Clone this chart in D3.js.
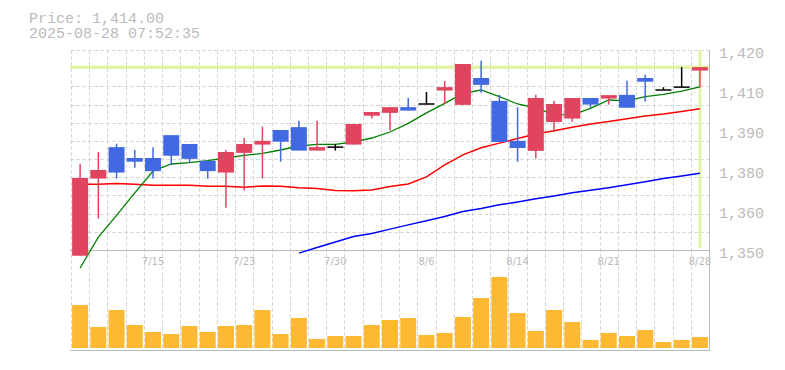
<html>
<script src="https://d3js.org/d3.v7.min.js"></script>

<style>
  body {
    margin: 0;
    background: #fff;
  }

  .lbl {
    fill: #bbb;
    font-family: "Liberation Mono", monospace;
    font-size: 15px;
  }
</style>

<body>
  <div id="chart"></div>
  <script>

    // trading days shown
    const dates = ["7/9", "7/10", "7/11", "7/14", "7/15", "7/16", "7/17", "7/18", "7/22", "7/23",
      "7/24", "7/25", "7/28", "7/29", "7/30", "7/31", "8/1", "8/4", "8/5", "8/6",
      "8/7", "8/8", "8/12", "8/13", "8/14", "8/15", "8/18", "8/19", "8/20", "8/21",
      "8/22", "8/25", "8/26", "8/27", "8/28"];

    const opens = [1348, 1375, 1386, 1382.2, 1382.2, 1390.2, 1387.1, 1381.2, 1377.1, 1384,
      1386.9, 1392, 1393, 1384.8, 1386, 1386.9, 1397, 1398, 1400, 1401.1,
      1405.8, 1400.8, 1410.2, 1402.2, 1388.2, 1384.7, 1394.8, 1396, 1403.2, 1403,
      1404.3, 1410.2, 1406, 1407, 1412.8];
    const highs = [1380, 1384.3, 1387.2, 1385, 1386, 1390.2, 1387.1, 1381.2, 1385, 1389.2,
      1393.2, 1392, 1395.2, 1395.2, 1387.1, 1394.1, 1398.3, 1400, 1403.2, 1405.3,
      1409.2, 1415.1, 1416.2, 1404.3, 1400, 1404.3, 1402.2, 1403.2, 1403.2, 1404.2,
      1409.2, 1411.3, 1407, 1414, 1414];
    const lows = [1348, 1361, 1375, 1378.8, 1375, 1379.8, 1380.8, 1375, 1364.8, 1370.8,
      1375, 1380.9, 1384.8, 1384.8, 1384.8, 1386.9, 1396, 1391.8, 1398.8, 1401.1,
      1401.3, 1400.8, 1405, 1387.8, 1380.9, 1382, 1391.2, 1394.9, 1399.8, 1400.9,
      1399.8, 1402, 1406, 1407, 1406.8];
    const closes = [1375.2, 1378, 1377.1, 1380.9, 1377.6, 1383, 1381.9, 1377.6, 1384.3, 1387.1,
      1388.2, 1387.9, 1384.8, 1386, 1386, 1394.1, 1398.3, 1400, 1398.8, 1401.1,
      1407, 1415.1, 1407.8, 1387.8, 1385.7, 1403.2, 1401.1, 1403.2, 1400.9, 1404.2,
      1399.8, 1408.9, 1406, 1407, 1414];
    const volumes = [4300, 2100, 3800, 2300, 1600, 1400, 2200, 1600, 2200, 2300,
      3800, 1400, 3000, 900, 1200, 1200, 2300, 2800, 3000, 1300,
      1500, 3100, 5000, 7100, 3500, 1700, 3800, 2600, 800, 1500,
      1200, 1800, 600, 800, 1100];

    // moving averages as drawn (null = not shown)
    const ma5 = [1343.7, 1354.5, 1362.1, 1370, 1377.6, 1380.1, 1380.6, 1381.3, 1382.2, 1383.1,
      1383.8, 1385, 1386.4, 1387, 1387, 1387.8, 1389.2, 1391.3, 1394.3, 1398,
      1401.3, 1404.8, 1406, 1403.7, 1401.1, 1399.7, 1397.4, 1397.3, 1399.6, 1402.5,
      1402.2, 1403.7, 1404.5, 1405.6, 1407.1];
    const ma25 = [1373, 1373, 1373.3, 1373, 1372.7, 1372.7, 1372.7, 1372.3, 1372.3, 1372,
      1372.4, 1372.3, 1371.8, 1371.5, 1370.8, 1370.7, 1371, 1372.2, 1373.1, 1375.6,
      1379.8, 1383.3, 1385.8, 1387.4, 1389, 1390.6, 1391.7, 1393, 1394.1, 1395,
      1395.9, 1396.9, 1397.6, 1398.5, 1399.4];
    const ma75 = [null, null, null, null, null, null, null, null, null, null,
      null, null, 1348.9, 1350.9, 1352.8, 1354.7, 1355.8, 1357.3, 1358.8, 1360.2,
      1361.7, 1363.5, 1364.5, 1365.8, 1366.8, 1367.9, 1368.9, 1370, 1370.9, 1371.8,
      1372.8, 1373.9, 1375, 1375.9, 1376.9];

    const yTickValues = [1350, 1364, 1378, 1392, 1406, 1420];
    const yTickLabels = ["1,350", "1,360", "1,380", "1,390", "1,410", "1,420"];
    const xTickDates = ["7/15", "7/23", "7/30", "8/6", "8/14", "8/21", "8/28"];

    const lastPrice = 1414;
    const titleLines = ["Price: 1,414.00", "2025-08-28 07:52:35"];

    var width = 785;
    var height = 370;
    var plotL = 71, plotR = 709, plotT = 50, plotB = 250;
    var volBase = 348, volTop = 268;

    var svg = d3.select("#chart")
      .append("svg")
      .attr("width", width)
      .attr("height", height);

    var x = d3.scaleBand().domain(dates).range([plotL, plotR]).padding(0);
    var bw = x.bandwidth();
    var cx = function (d) { return x(d) + bw / 2; };
    var y = d3.scaleLinear().domain([1350, 1420]).range([plotB, plotT]);
    var yv = d3.scaleLinear().domain([0, 8000]).range([volBase, volTop]);

    var data = dates.map(function (d, i) {
      return { date: d, o: opens[i], h: highs[i], l: lows[i], c: closes[i], v: volumes[i] };
    });

    // grid
    var grid = svg.append("g")
      .attr("stroke", "#d9d9d9")
      .attr("stroke-dasharray", "4,2")
      .attr("shape-rendering", "crispEdges");
    grid.selectAll(".vg").data(dates).enter().append("line")
      .attr("x1", function (d) { return Math.round(x(d)) + 0.5; })
      .attr("x2", function (d) { return Math.round(x(d)) + 0.5; })
      .attr("y1", plotT).attr("y2", 350);
    grid.selectAll(".hg").data(d3.range(11)).enter().append("line")
      .attr("x1", plotL - 1).attr("x2", plotR)
      .attr("y1", function (k) { return Math.round(plotT + k * (plotB - plotT) / 11) + 0.5; })
      .attr("y2", function (k) { return Math.round(plotT + k * (plotB - plotT) / 11) + 0.5; });

    // frame lines
    var frame = svg.append("g").attr("stroke", "#bbb").attr("shape-rendering", "crispEdges");
    frame.append("line").attr("x1", plotL - 1).attr("x2", plotR + 1).attr("y1", plotB + 0.5).attr("y2", plotB + 0.5);
    frame.append("line").attr("x1", plotL - 1).attr("x2", plotR + 1).attr("y1", 350.5).attr("y2", 350.5);
    frame.append("line").attr("x1", plotR + 0.5).attr("x2", plotR + 0.5).attr("y1", plotT).attr("y2", 351);

    // current price markers
    svg.append("line")
      .attr("x1", plotL - 1).attr("x2", plotR)
      .attr("y1", y(lastPrice)).attr("y2", y(lastPrice))
      .attr("stroke", "#e2f5a6").attr("stroke-width", 3.5);
    svg.append("line")
      .attr("x1", cx(dates[dates.length - 1])).attr("x2", cx(dates[dates.length - 1]))
      .attr("y1", plotT).attr("y2", plotB - 2)
      .attr("stroke", "#e2f5a6").attr("stroke-width", 3);

    // moving averages
    function maLine(values, color, w) {
      var line = d3.line()
        .defined(function (d) { return d != null; })
        .x(function (d, i) { return cx(dates[i]); })
        .y(function (d) { return y(d); });
      svg.append("path")
        .datum(values)
        .attr("fill", "none")
        .attr("stroke", color)
        .attr("stroke-width", w)
        .attr("d", line);
    }
    maLine(ma75, "#0000ff", 1.5);
    maLine(ma25, "#ff0000", 1.5);
    maLine(ma5, "#008000", 1.3);

    // candles
    var red = "#e0445f", blue = "#4169e1";
    function col(d) {
      if (d.c > d.o) return red;
      if (d.c < d.o) return blue;
      return "#000";
    }
    var candles = svg.selectAll(".candle").data(data).enter().append("g").attr("class", "candle");
    candles.append("line")
      .attr("x1", function (d) { return cx(d.date); })
      .attr("x2", function (d) { return cx(d.date); })
      .attr("y1", function (d) { return y(d.h); })
      .attr("y2", function (d) { return y(d.l); })
      .attr("stroke", col)
      .attr("stroke-width", 1.5);
    candles.filter(function (d) { return d.c != d.o; }).append("rect")
      .attr("x", function (d) { return cx(d.date) - 8; })
      .attr("width", 16)
      .attr("y", function (d) { return y(Math.max(d.o, d.c)); })
      .attr("height", function (d) { return Math.abs(y(d.o) - y(d.c)); })
      .attr("fill", col);
    candles.filter(function (d) { return d.c == d.o; }).append("line")
      .attr("x1", function (d) { return cx(d.date) - 8; })
      .attr("x2", function (d) { return cx(d.date) + 8; })
      .attr("y1", function (d) { return y(d.c); })
      .attr("y2", function (d) { return y(d.c); })
      .attr("stroke", "#000")
      .attr("stroke-width", 1.5);

    // volume
    svg.selectAll(".vol").data(data).enter().append("rect")
      .attr("class", "vol")
      .attr("x", function (d) { return cx(d.date) - 8; })
      .attr("width", 16)
      .attr("y", function (d) { return yv(d.v); })
      .attr("height", function (d) { return volBase - yv(d.v); })
      .attr("fill", "#fdb934");

    // axes
    var yAxis = svg.append("g")
      .attr("transform", "translate(" + plotR + ",0)")
      .call(d3.axisRight(y).tickValues(yTickValues)
        .tickFormat(function (d, i) { return yTickLabels[i]; })
        .tickSize(0).tickPadding(10));
    yAxis.select(".domain").remove();
    yAxis.selectAll("text")
      .attr("class", "lbl")
      .attr("dy", "0.5em")
      .attr("fill", null);

    var xAxis = svg.append("g")
      .attr("transform", "translate(0," + plotB + ")")
      .call(d3.axisBottom(x).tickValues(xTickDates).tickSize(0).tickPadding(8));
    xAxis.select(".domain").remove();
    xAxis.selectAll("text")
      .attr("fill", "#bbb")
      .style("font-family", "'DejaVu Sans', sans-serif")
      .style("font-size", "10px");

    // header
    svg.selectAll(".title").data(titleLines).enter().append("text")
      .attr("class", "lbl")
      .attr("x", 29)
      .attr("y", function (d, i) { return 23 + i * 14.5; })
      .text(function (d) { return d; });

  </script>
</body>

</html>
